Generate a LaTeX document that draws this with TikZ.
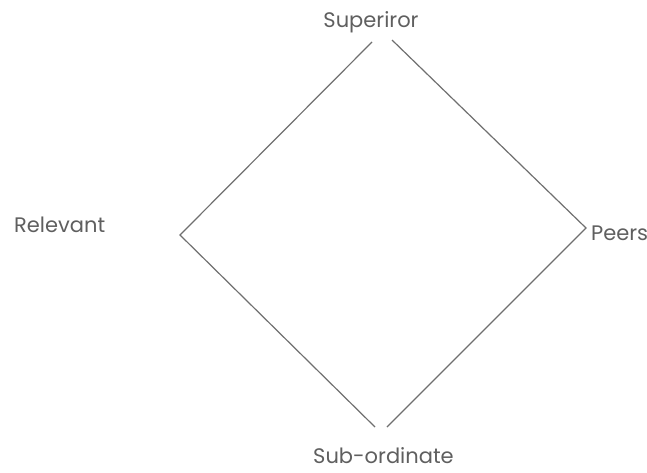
\documentclass[tikz,border=0pt]{standalone}
\usepackage{fontspec}
\setmainfont{Poppins}
\usepackage{xcolor}
\usepackage{tikz}
\usetikzlibrary{positioning}

\definecolor{inkgray}{RGB}{95,95,95}

\begin{document}
\begin{tikzpicture}[
  x=1pt, y=-1pt,
  lbl/.style={font=\fontsize{21}{24}\selectfont, text=inkgray, inner sep=0pt},
  edge/.style={draw=inkgray!90, line width=1.2pt, line join=miter},
]
\useasboundingbox (0,0) rectangle (647,472);

\node[lbl]              (sup)   at (371,22)  {Superiror};
\node[lbl, anchor=west] (rel)   at (14,225)  {Relevant};
\node[lbl, anchor=west] (peers) at (591,233) {Peers};
\node[lbl, anchor=west] (sub)   at (313,456) {Sub-ordinate};

% corners of the diamond
\coordinate (supL)  at (372,42);
\coordinate (supR)  at (392,40);
\coordinate (relv)  at (180,235);
\coordinate (peerv) at (586,228);
\coordinate (subL)  at (375,427);
\coordinate (subR)  at (387,427);

\draw[edge] (supL) -- (relv) -- (subL);
\draw[edge] (supR) -- (peerv) -- (subR);
\end{tikzpicture}
\end{document}
